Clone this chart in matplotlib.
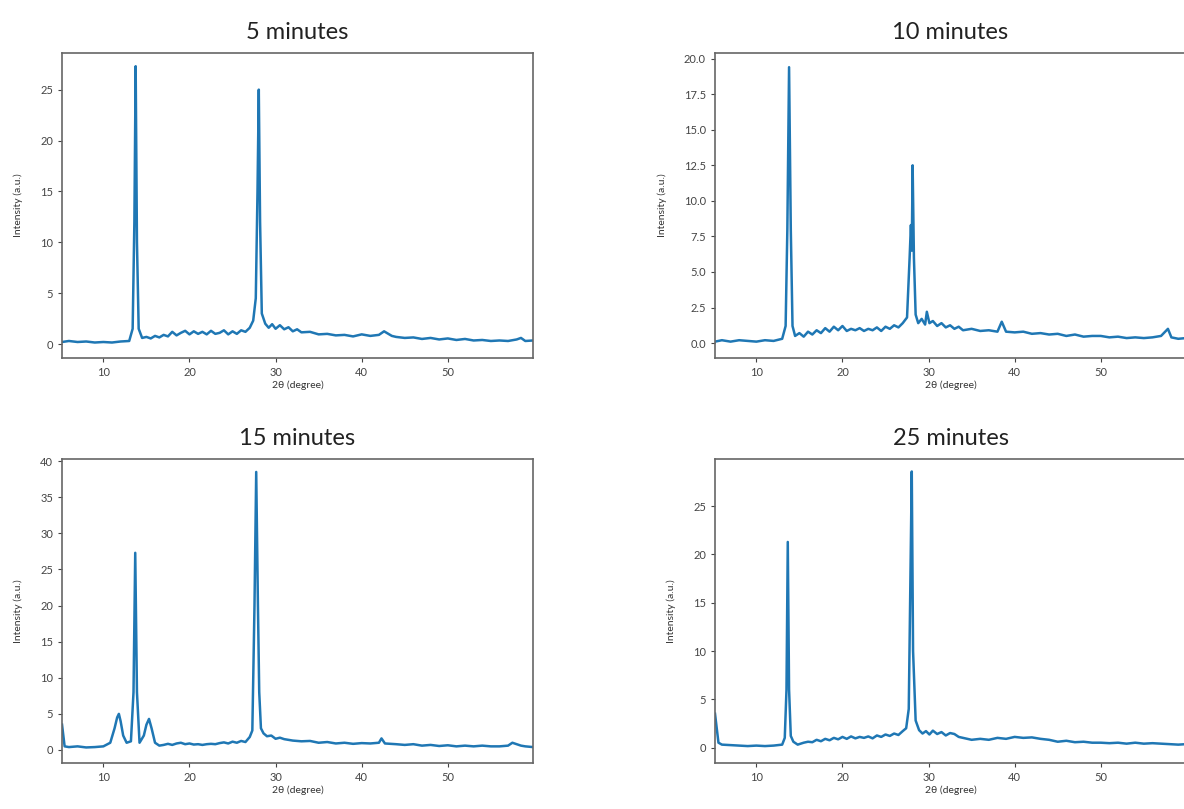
import matplotlib
matplotlib.use("Agg")
import matplotlib.pyplot as plt

### Data (2-theta in degrees, intensity in a.u.)
titles = ["5 minutes", "10 minutes", "15 minutes", "25 minutes"]

x5 = [5.2, 6, 7, 8, 9, 10, 11, 12, 13, 13.4,
      13.6, 13.75, 13.9, 14.1, 14.5, 15, 15.5, 16, 16.5, 17,
      17.5, 18, 18.5, 19, 19.5, 20, 20.5, 21, 21.5, 22,
      22.5, 23, 23.5, 24, 24.5, 25, 25.5, 26, 26.5, 27,
      27.4, 27.7, 27.9, 28.05, 28.2, 28.4, 28.8, 29.2, 29.6, 30,
      30.5, 31, 31.5, 32, 32.5, 33, 34, 35, 36, 37,
      38, 39, 40, 41, 42, 42.6, 43, 43.5, 44, 45,
      46, 47, 48, 49, 50, 51, 52, 53, 54, 55,
      56, 57, 58, 58.5, 59, 59.9]
y5 = [0.2, 0.3, 0.2, 0.25, 0.15, 0.2, 0.15, 0.25, 0.3, 1.5,
      12, 27.3, 10, 1.5, 0.6, 0.7, 0.55, 0.8, 0.65, 0.9,
      0.75, 1.2, 0.85, 1.1, 1.3, 0.95, 1.25, 1.0, 1.2, 0.95,
      1.3, 1.0, 1.1, 1.35, 0.95, 1.25, 1.0, 1.35, 1.2, 1.6,
      2.3, 4.5, 15, 25, 12, 3, 2.0, 1.6, 1.95, 1.5,
      1.85, 1.45, 1.65, 1.25, 1.45, 1.15, 1.2, 0.95, 1.0, 0.85,
      0.9, 0.75, 0.95, 0.8, 0.9, 1.25, 1.05, 0.8, 0.7, 0.6,
      0.65, 0.5, 0.6, 0.45, 0.55, 0.4, 0.5, 0.35, 0.4, 0.3,
      0.35, 0.3, 0.45, 0.6, 0.3, 0.35]

x10 = [5.2, 6, 7, 8, 9, 10, 11, 12, 13, 13.4,
       13.6, 13.8, 14.0, 14.2, 14.5, 15, 15.5, 16, 16.5, 17,
       17.5, 18, 18.5, 19, 19.5, 20, 20.5, 21, 21.5, 22,
       22.5, 23, 23.5, 24, 24.5, 25, 25.5, 26, 26.5, 27,
       27.5, 27.8, 27.95, 28.05, 28.15, 28.3, 28.5, 28.8, 29.2, 29.6,
       29.8, 30.1, 30.5, 31, 31.5, 32, 32.5, 33, 33.5, 34,
       35, 36, 37, 38, 38.5, 39, 40, 41, 42, 43,
       44, 45, 46, 47, 48, 49, 50, 51, 52, 53,
       54, 55, 56, 57, 57.8, 58.2, 59, 59.9]
y10 = [0.1, 0.2, 0.1, 0.2, 0.15, 0.1, 0.2, 0.15, 0.3, 1.2,
       8, 19.4, 8, 1.2, 0.5, 0.7, 0.45, 0.8, 0.6, 0.9,
       0.7, 1.05, 0.8, 1.15, 0.9, 1.2, 0.85, 1.0, 0.9, 1.05,
       0.85, 1.0, 0.9, 1.1, 0.85, 1.15, 1.0, 1.25, 1.1, 1.4,
       1.8, 6, 8.3, 6.5, 12.5, 6, 2, 1.4, 1.7, 1.3,
       2.2, 1.4, 1.55, 1.2, 1.4, 1.1, 1.25, 1.0, 1.15, 0.9,
       1.0, 0.85, 0.9, 0.8, 1.5, 0.8, 0.75, 0.8, 0.65, 0.7,
       0.6, 0.65, 0.5, 0.6, 0.45, 0.5, 0.5, 0.4, 0.45, 0.35,
       0.4, 0.35, 0.4, 0.5, 1.0, 0.4, 0.3, 0.35]

x15 = [5.2, 5.5, 6, 7, 8, 9, 10, 10.8, 11.3, 11.6,
       11.8, 12.0, 12.3, 12.7, 13.2, 13.5, 13.7, 13.9, 14.2, 14.7,
       15.0, 15.3, 15.6, 16.0, 16.5, 17, 17.5, 18, 18.5, 19,
       19.5, 20, 20.5, 21, 21.5, 22, 22.5, 23, 23.5, 24,
       24.5, 25, 25.5, 26, 26.5, 27, 27.3, 27.55, 27.75, 27.95,
       28.1, 28.3, 28.6, 29, 29.5, 30, 30.5, 31, 32, 33,
       34, 35, 36, 37, 38, 39, 40, 41, 42, 42.3,
       42.7, 44, 45, 46, 47, 48, 49, 50, 51, 52,
       53, 54, 55, 56, 57, 57.5, 58, 58.5, 59, 59.9]
y15 = [3.5, 0.5, 0.4, 0.5, 0.35, 0.4, 0.5, 1.0, 3.0, 4.5,
       5.0, 4.0, 2.0, 1.0, 1.2, 8, 27.3, 8, 1.0, 2.0,
       3.5, 4.3, 3.0, 1.0, 0.6, 0.7, 0.85, 0.7, 0.9, 1.0,
       0.8, 0.9, 0.75, 0.8, 0.7, 0.8, 0.85, 0.8, 0.95, 1.05,
       0.9, 1.15, 1.0, 1.25, 1.1, 1.8, 2.7, 20, 38.5, 20,
       8, 3, 2.3, 1.9, 2.0, 1.55, 1.7, 1.5, 1.3, 1.2,
       1.25, 1.0, 1.1, 0.9, 1.0, 0.85, 0.95, 0.9, 1.0, 1.6,
       0.9, 0.8, 0.7, 0.8, 0.6, 0.7, 0.55, 0.65, 0.5, 0.6,
       0.5, 0.6, 0.5, 0.5, 0.6, 1.0, 0.8, 0.6, 0.5, 0.4]

x25 = [5.2, 5.6, 6, 7, 8, 9, 10, 11, 12, 13,
       13.3, 13.5, 13.65, 13.8, 14.0, 14.3, 14.8, 15.5, 16, 16.5,
       17, 17.5, 18, 18.5, 19, 19.5, 20, 20.5, 21, 21.5,
       22, 22.5, 23, 23.5, 24, 24.5, 25, 25.5, 26, 26.5,
       27, 27.4, 27.7, 27.9, 28.05, 28.2, 28.5, 28.9, 29.3, 29.7,
       30.1, 30.5, 31, 31.5, 32, 32.5, 33, 33.5, 34, 35,
       36, 37, 38, 39, 40, 41, 42, 43, 44, 45,
       46, 47, 48, 49, 50, 51, 52, 53, 54, 55,
       56, 57, 58, 59, 59.9]
y25 = [3.5, 0.5, 0.3, 0.25, 0.2, 0.15, 0.2, 0.15, 0.2, 0.3,
       1.0, 6, 21.3, 6, 1.2, 0.6, 0.3, 0.5, 0.6, 0.55,
       0.8, 0.65, 0.9, 0.75, 1.0, 0.85, 1.1, 0.9, 1.15, 0.95,
       1.1, 1.0, 1.15, 0.95, 1.25, 1.1, 1.35, 1.2, 1.45, 1.3,
       1.7, 2.0, 4, 18, 28.6, 10, 2.8, 1.8, 1.45, 1.7,
       1.35, 1.75, 1.4, 1.6, 1.25, 1.5, 1.4, 1.1, 1.0, 0.8,
       0.9, 0.8, 1.0, 0.9, 1.1, 1.0, 1.05, 0.9, 0.8, 0.6,
       0.7, 0.55, 0.6, 0.5, 0.5, 0.45, 0.5, 0.4, 0.5, 0.4,
       0.45, 0.4, 0.35, 0.3, 0.35]

series = [(x5, y5), (x10, y10), (x15, y15), (x25, y25)]
y_limits = [(-1.37, 28.6), (-1.05, 20.4), (-1.8, 40.3), (-1.6, 29.9)]

### Plot
plt.rcParams['font.family'] = ['Lato', 'DejaVu Sans']
fig = plt.figure(figsize=(11.84, 8.09), dpi=100)

# axes boxes in figure fractions: [left, bottom, width, height]
boxes = [
    [0.0524, 0.5575, 0.3978, 0.377],
    [0.6039, 0.5575, 0.3978, 0.377],
    [0.0524, 0.0569, 0.3978, 0.3758],
    [0.6039, 0.0569, 0.3978, 0.3758],
]

for box, (xs, ys), title, ylim in zip(boxes, series, titles, y_limits):
    ax = fig.add_axes(box)
    ax.plot(xs, ys, color="#1f77b4", linewidth=1.8)
    ax.set_xlim(xs[0], xs[-1])
    ax.set_ylim(ylim)
    ax.set_title(title, fontsize=17, pad=10, color="#222222")
    ax.set_xlabel("2θ (degree)", fontsize=7.5, color="#333333", labelpad=2)
    ax.set_ylabel("Intensity (a.u.)", fontsize=7.5, color="#333333", labelpad=12)
    ax.tick_params(labelsize=8, colors="#444444", length=3)
    for sp in ax.spines.values():
        sp.set_color("#666666")
        sp.set_linewidth(1.2)

fig.savefig("out.png", dpi=100)
